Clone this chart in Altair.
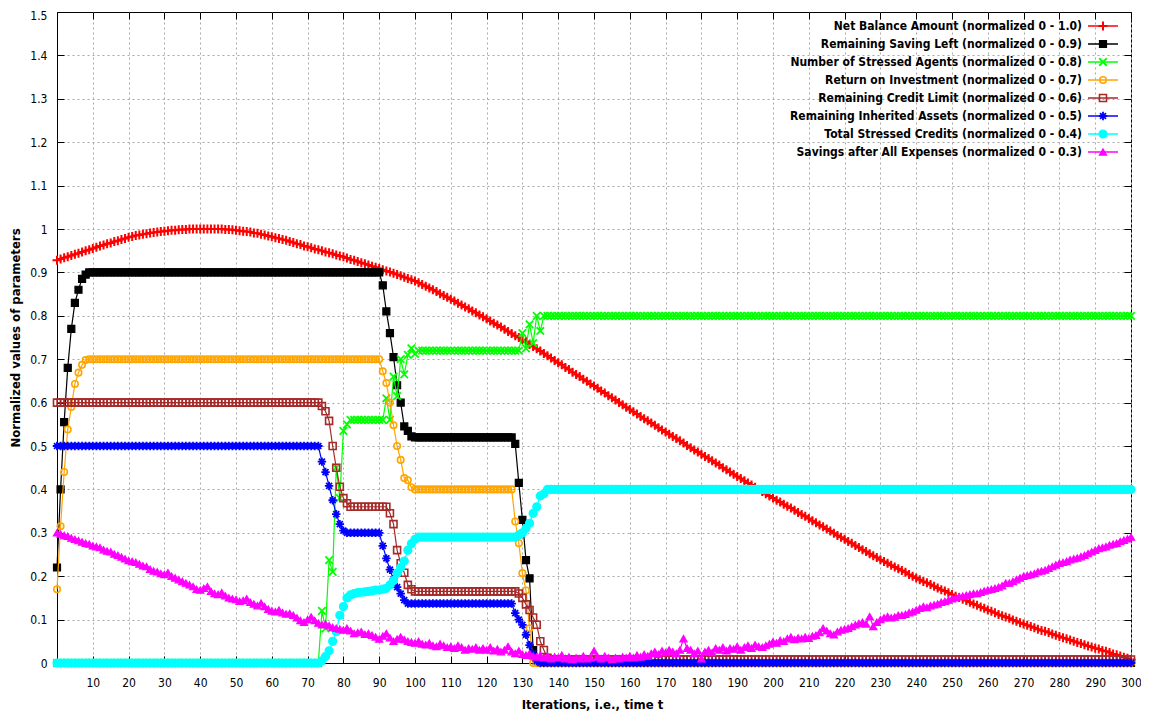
import altair as alt
import pandas as pd

ITER = list(range(301))

NAMES = [
    "Net Balance Amount (normalized 0 - 1.0)",
    "Remaining Saving Left (normalized 0 - 0.9)",
    "Number of Stressed Agents (normalized 0 - 0.8)",
    "Return on Investment (normalized 0 - 0.7)",
    "Remaining Credit Limit (normalized 0 - 0.6)",
    "Remaining Inherited Assets (normalized 0 - 0.5)",
    "Total Stressed Credits (normalized 0 - 0.4)",
    "Savings after All Expenses (normalized 0 - 0.3)",
]

NET_BALANCE = [
    0.928, 0.931, 0.934, 0.936, 0.939, 0.942, 0.944, 0.947, 0.950, 0.952,
    0.955, 0.958, 0.961, 0.963, 0.966, 0.968, 0.971, 0.973, 0.976, 0.978,
    0.981, 0.983, 0.985, 0.986, 0.988, 0.989, 0.991, 0.992, 0.993, 0.994,
    0.995, 0.996, 0.997, 0.997, 0.998, 0.999, 0.999, 1.0, 1.0, 1.0,
    1.0, 1.0, 1.0, 1.0, 1.0, 1.0, 1.0, 0.999, 0.999, 0.998,
    0.997, 0.996, 0.995, 0.994, 0.993, 0.991, 0.990, 0.988, 0.986, 0.984,
    0.982, 0.980, 0.978, 0.976, 0.974, 0.971, 0.969, 0.966, 0.964, 0.961,
    0.959, 0.957, 0.954, 0.952, 0.950, 0.947, 0.945, 0.943, 0.940, 0.938,
    0.936, 0.933, 0.930, 0.928, 0.925, 0.922, 0.920, 0.917, 0.914, 0.912,
    0.909, 0.906, 0.903, 0.901, 0.898, 0.895, 0.892, 0.889, 0.886, 0.883,
    0.880, 0.876, 0.872, 0.868, 0.864, 0.860, 0.856, 0.851, 0.847, 0.843,
    0.838, 0.834, 0.829, 0.825, 0.820, 0.816, 0.811, 0.807, 0.802, 0.798,
    0.793, 0.788, 0.783, 0.779, 0.774, 0.769, 0.764, 0.759, 0.754, 0.750,
    0.745, 0.740, 0.734, 0.729, 0.724, 0.719, 0.713, 0.708, 0.703, 0.697,
    0.692, 0.687, 0.681, 0.676, 0.670, 0.665, 0.660, 0.654, 0.649, 0.643,
    0.638, 0.633, 0.627, 0.622, 0.616, 0.611, 0.606, 0.600, 0.595, 0.589,
    0.584, 0.579, 0.574, 0.568, 0.563, 0.558, 0.553, 0.548, 0.542, 0.537,
    0.532, 0.527, 0.522, 0.517, 0.512, 0.507, 0.501, 0.496, 0.491, 0.486,
    0.481, 0.476, 0.471, 0.466, 0.461, 0.456, 0.450, 0.445, 0.440, 0.435,
    0.430, 0.425, 0.420, 0.415, 0.410, 0.405, 0.400, 0.395, 0.390, 0.385,
    0.380, 0.375, 0.371, 0.366, 0.361, 0.357, 0.352, 0.347, 0.342, 0.338,
    0.333, 0.328, 0.323, 0.318, 0.314, 0.309, 0.304, 0.299, 0.294, 0.290,
    0.285, 0.280, 0.276, 0.271, 0.266, 0.261, 0.257, 0.252, 0.247, 0.243,
    0.238, 0.234, 0.230, 0.225, 0.221, 0.217, 0.213, 0.209, 0.204, 0.200,
    0.196, 0.192, 0.188, 0.185, 0.181, 0.177, 0.173, 0.169, 0.166, 0.162,
    0.158, 0.154, 0.151, 0.147, 0.144, 0.140, 0.136, 0.133, 0.129, 0.126,
    0.122, 0.119, 0.116, 0.112, 0.109, 0.106, 0.103, 0.099, 0.096, 0.093,
    0.090, 0.087, 0.084, 0.081, 0.078, 0.075, 0.073, 0.070, 0.067, 0.064,
    0.061, 0.058, 0.056, 0.053, 0.050, 0.047, 0.045, 0.042, 0.039, 0.037,
    0.034, 0.032, 0.029, 0.027, 0.024, 0.021, 0.019, 0.016, 0.013, 0.011,
    0.008,
]

SAVING_LEFT = (
    [0.22, 0.40, 0.555, 0.68, 0.77, 0.83, 0.86, 0.885, 0.895, 0.9]
    + [0.9] * 80
    + [0.9, 0.87, 0.81, 0.76, 0.705, 0.64, 0.6, 0.545, 0.535, 0.522]
    + [0.52] * 28
    + [0.505, 0.415, 0.33, 0.237, 0.195, 0.03, 0.005]
    + [0.0] * 166
)

STRESSED_AGENTS = (
    [0.0] * 74
    + [0.12, 0.08, 0.237, 0.21, 0.45, 0.38, 0.535, 0.55, 0.56]
    + [0.56] * 8
    + [0.56, 0.61, 0.56, 0.66, 0.615, 0.7, 0.665, 0.71, 0.725, 0.712]
    + [0.72] * 29
    + [0.76, 0.725, 0.78, 0.737, 0.8, 0.765]
    + [0.8] * 165
)

RETURN_INV = (
    [0.17, 0.315, 0.44, 0.538, 0.59, 0.643, 0.669, 0.687, 0.698, 0.7]
    + [0.7] * 81
    + [0.672, 0.645, 0.6, 0.548, 0.5, 0.468, 0.426, 0.421, 0.405]
    + [0.4] * 28
    + [0.326, 0.276, 0.207, 0.167, 0.08, 0.0]
    + [0.0] * 167
)

CREDIT_LIMIT = (
    [0.6] * 74
    + [0.592, 0.58, 0.558, 0.5, 0.45, 0.406, 0.38, 0.368]
    + [0.36] * 11
    + [0.345, 0.32, 0.26, 0.23, 0.208, 0.18, 0.17]
    + [0.165] * 29
    + [0.16, 0.15, 0.135, 0.122, 0.105, 0.088, 0.05, 0.03, 0.012]
    + [0.008] * 163
)

INHERITED = (
    [0.5] * 74
    + [0.464, 0.44, 0.408, 0.375, 0.343, 0.32, 0.305]
    + [0.3] * 10
    + [0.27, 0.241, 0.215, 0.193, 0.175, 0.16, 0.145]
    + [0.137] * 30
    + [0.115, 0.1, 0.088, 0.065, 0.041, 0.022, 0.005]
    + [0.0] * 166
)

STRESSED_CREDITS = (
    [0.0] * 74
    + [0.005, 0.015, 0.028, 0.05, 0.072, 0.11, 0.13, 0.15, 0.157, 0.16,
       0.162, 0.163, 0.164, 0.165, 0.166, 0.168, 0.168, 0.17, 0.172, 0.18,
       0.19, 0.207, 0.22, 0.235, 0.26, 0.275, 0.285]
    + [0.29] * 28
    + [0.295, 0.3, 0.31, 0.322, 0.345, 0.36, 0.385, 0.39, 0.4]
    + [0.4] * 163
)

SAVINGS_AFTER = [
    0.300, 0.297, 0.294, 0.292, 0.288, 0.285, 0.282, 0.279, 0.276, 0.274,
    0.270, 0.268, 0.266, 0.261, 0.258, 0.256, 0.251, 0.248, 0.244, 0.240,
    0.236, 0.234, 0.232, 0.228, 0.224, 0.222, 0.216, 0.212, 0.210, 0.206,
    0.204, 0.208, 0.200, 0.196, 0.192, 0.188, 0.184, 0.180, 0.176, 0.170,
    0.168, 0.172, 0.176, 0.165, 0.160, 0.158, 0.162, 0.155, 0.150, 0.148,
    0.146, 0.142, 0.144, 0.148, 0.140, 0.136, 0.132, 0.138, 0.130, 0.124,
    0.120, 0.118, 0.122, 0.116, 0.113, 0.114, 0.110, 0.104, 0.098, 0.094,
    0.100, 0.106, 0.098, 0.092, 0.088, 0.090, 0.086, 0.082, 0.080, 0.078,
    0.076, 0.080, 0.074, 0.068, 0.070, 0.072, 0.066, 0.068, 0.064, 0.060,
    0.055, 0.062, 0.068, 0.058, 0.050, 0.055, 0.060, 0.054, 0.050, 0.048,
    0.046, 0.050, 0.044, 0.042, 0.046, 0.040, 0.038, 0.044, 0.040, 0.036,
    0.038, 0.034, 0.040, 0.036, 0.030, 0.034, 0.032, 0.036, 0.030, 0.034,
    0.030, 0.036, 0.028, 0.032, 0.026, 0.030, 0.038, 0.026, 0.022, 0.028,
    0.020, 0.018, 0.022, 0.016, 0.014, 0.018, 0.012, 0.016, 0.010, 0.014,
    0.012, 0.018, 0.010, 0.014, 0.008, 0.012, 0.010, 0.016, 0.010, 0.012,
    0.028, 0.014, 0.010, 0.016, 0.012, 0.008, 0.012, 0.010, 0.014, 0.012,
    0.016, 0.012, 0.018, 0.014, 0.020, 0.016, 0.022, 0.026, 0.020, 0.028,
    0.024, 0.030, 0.026, 0.022, 0.030, 0.056, 0.034, 0.030, 0.022, 0.028,
    0.010, 0.026, 0.030, 0.024, 0.034, 0.030, 0.036, 0.028, 0.034, 0.032,
    0.038, 0.030, 0.036, 0.040, 0.034, 0.042, 0.038, 0.036, 0.040, 0.044,
    0.049, 0.046, 0.052, 0.050, 0.056, 0.060, 0.054, 0.058, 0.056, 0.060,
    0.057, 0.062, 0.064, 0.070, 0.080, 0.074, 0.068, 0.065, 0.072, 0.076,
    0.078, 0.080, 0.084, 0.088, 0.091, 0.094, 0.090, 0.107, 0.084, 0.094,
    0.100, 0.104, 0.107, 0.104, 0.106, 0.110, 0.110, 0.112, 0.116, 0.118,
    0.122, 0.126, 0.130, 0.128, 0.132, 0.134, 0.136, 0.140, 0.142, 0.145,
    0.148, 0.150, 0.153, 0.154, 0.156, 0.158, 0.160, 0.160, 0.163, 0.166,
    0.168, 0.170, 0.172, 0.175, 0.178, 0.184, 0.184, 0.188, 0.192, 0.196,
    0.200, 0.202, 0.204, 0.206, 0.210, 0.212, 0.214, 0.218, 0.222, 0.226,
    0.230, 0.232, 0.234, 0.238, 0.240, 0.242, 0.245, 0.248, 0.252, 0.256,
    0.260, 0.264, 0.266, 0.268, 0.272, 0.274, 0.276, 0.280, 0.283, 0.286,
    0.290,
]

SERIES = [NET_BALANCE, SAVING_LEFT, STRESSED_AGENTS, RETURN_INV,
          CREDIT_LIMIT, INHERITED, STRESSED_CREDITS, SAVINGS_AFTER]
for s in SERIES:
    assert len(s) == len(ITER), len(s)

XTICKS = list(range(10, 301, 10))
YTICKS = [round(0.1 * k, 1) for k in range(16)]

# ---- styling ----
COLORS = ["#ff0000", "#000000", "#00ff00", "#ffa500",
          "#a52a2a", "#0000ff", "#00ffff", "#ff00ff"]
PLUS = "M-1,0L1,0M0,-1L0,1"
XS = "M-1,-1L1,1M-1,1L1,-1"
STAR = "M-1,0L1,0M0,-1L0,1M-0.7,-0.7L0.7,0.7M-0.7,0.7L0.7,-0.7"
# shape, size, filled, stroke width
MARKERS = [
    (PLUS, 81, False, 2.0),
    ("square", 49, True, 1.2),
    (XS, 56, False, 1.8),
    ("circle", 42, False, 1.6),
    ("square", 49, False, 1.6),
    (STAR, 72, False, 1.8),
    ("circle", 64, True, 1.2),
    ("triangle-up", 52, True, 1.2),
]
FONT = "DejaVu Sans Condensed, DejaVu Sans"
W, H = 1074, 651

xscale = alt.Scale(domain=[0, 300], nice=False, zero=False)
yscale = alt.Scale(domain=[0, 1.5], nice=False, zero=False)

GRID = dict(grid=True, gridColor="#a8a8a8", gridDash=[2, 3], gridWidth=1)
X_MAIN = alt.Axis(values=XTICKS, ticks=False, domain=True, domainColor="black",
                  labelPadding=14, labelFlush=False, labelFont=FONT, labelFontSize=12,
                  labelColor="black",
                  title="Iterations, i.e., time t", titleFont=FONT, titleFontSize=13,
                  titleFontWeight="bold", titleColor="black", titleBaseline="middle",
                  titleX=535, titleY=41, **GRID)
Y_MAIN = alt.Axis(values=YTICKS[:-1], format=".1~f", ticks=False, domain=True,
                  domainColor="black", labelFlush=False,
                  labelPadding=10, labelFont=FONT, labelFontSize=12, labelColor="black",
                  title="Normalized values of parameters", titleFont=FONT, titleFontSize=13,
                  titleFontWeight="bold", titleColor="black", titleBaseline="middle",
                  titleAngle=270, titleX=-42, titleY=H / 2, **GRID)
Y_TOP = alt.Axis(values=YTICKS[-1:], format=".1~f", ticks=False, domain=False,
                 labelFlush=False, labelOffset=3, labelPadding=10, labelFont=FONT,
                 labelFontSize=12, labelColor="black", grid=False, title=None,
                 orient="left")


def tick_axis(values, orient, offset):
    return alt.Axis(values=values, orient=orient, offset=offset, ticks=True, tickSize=7,
                    tickColor="black", tickWidth=1, labels=False, domain=False,
                    grid=False, title=None)


X_AXES = [X_MAIN, tick_axis(XTICKS, "top", -H), tick_axis(XTICKS, "bottom", -H), None]
Y_AXES = [Y_MAIN, tick_axis(YTICKS, "right", -W), tick_axis(YTICKS, "left", -W), Y_TOP]


def point_mark(chart, i):
    shape, size, filled, sw = MARKERS[i]
    if filled:
        return chart.mark_point(shape=shape, size=size, filled=True, fill=COLORS[i],
                                stroke=COLORS[i], strokeWidth=sw, opacity=1)
    return chart.mark_point(shape=shape, size=size, filled=False, stroke=COLORS[i],
                            fill="transparent", strokeWidth=sw, opacity=1)


layers = []
for i, vals in enumerate(SERIES):
    df = pd.DataFrame({"t": ITER, "v": vals})
    base = alt.Chart(df)
    for kind in ("line", "point"):
        k = len(layers)
        xa = X_AXES[k] if k < len(X_AXES) else None
        ya = Y_AXES[k] if k < len(Y_AXES) else None
        enc = dict(x=alt.X("t:Q", scale=xscale, axis=xa),
                   y=alt.Y("v:Q", scale=yscale, axis=ya))
        if kind == "line":
            layers.append(base.mark_line(color=COLORS[i], strokeWidth=1.2).encode(**enc))
        else:
            layers.append(point_mark(base, i).encode(**enc))

plot = alt.layer(*layers).resolve_axis(x="independent", y="independent")

# ---- key (gnuplot style: text, then sample) ----
LEG = pd.DataFrame({"rank": list(range(len(NAMES))), "name": NAMES})
leg_y = alt.Y("rank:Q", scale=alt.Scale(domain=[0, 7], range=[14, 140]), axis=None)
leg_base = alt.Chart(LEG)
leg_layers = [
    leg_base.mark_text(align="right", baseline="middle", font=FONT, fontSize=12,
                       fontWeight="bold", color="black").encode(
        x=alt.value(1025), y=leg_y, text="name:N"),
    leg_base.mark_rule(strokeWidth=1.5).encode(
        x=alt.value(1031), x2=alt.value(1061), y=leg_y,
        color=alt.Color("name:N", scale=alt.Scale(domain=NAMES, range=COLORS), legend=None)),
]
for i, name in enumerate(NAMES):
    leg_layers.append(
        point_mark(leg_base.transform_filter(alt.datum.rank == i), i).encode(
            x=alt.value(1046), y=leg_y))
key = alt.layer(*leg_layers)

chart = (
    alt.layer(plot, key)
    .resolve_scale(y="independent")
    .resolve_axis(x="independent", y="independent")
    .properties(width=W, height=H, background="white",
                autosize=alt.AutoSizeParams(type="none"),
                padding={"left": 49, "top": 4, "right": 10, "bottom": 48})
    .configure_view(stroke="black", strokeWidth=1)
)

chart.save("out.html", embed_options={"renderer": "svg", "actions": False})
